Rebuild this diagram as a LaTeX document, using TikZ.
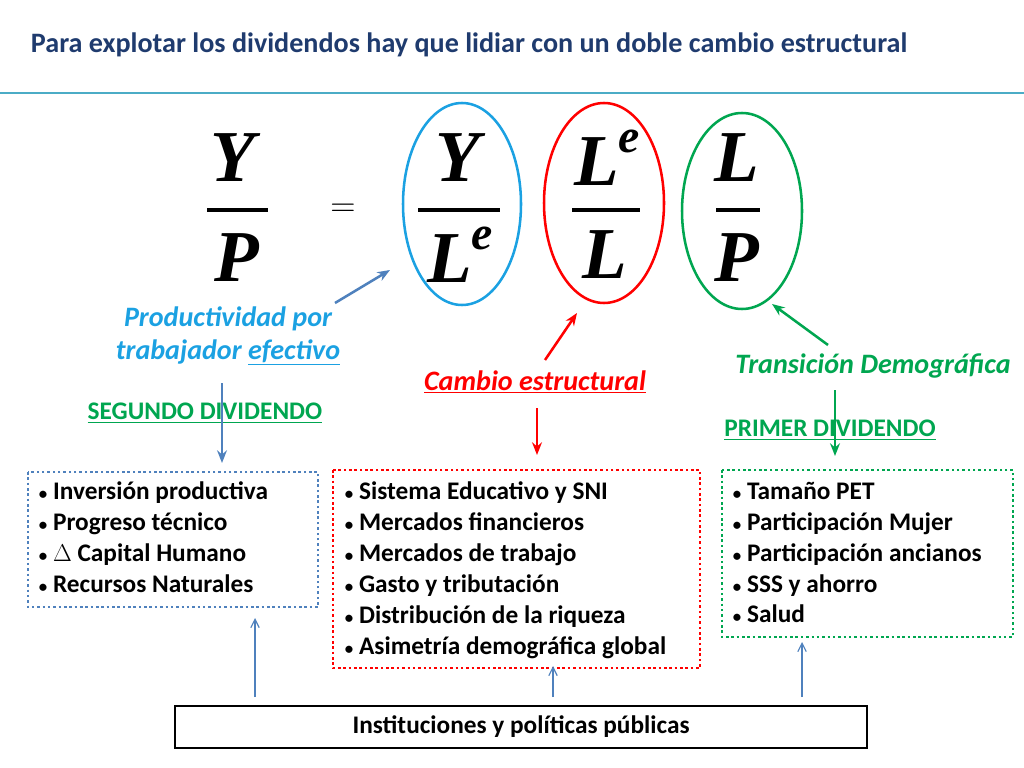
\documentclass[tikz,border=0pt]{standalone}
\usepackage{fontspec}
\setmainfont{Carlito}
\newfontfamily\mathfont{Liberation Serif}
\usetikzlibrary{arrows.meta}
\newcommand{\mlet}[1]{{\mathfont\bfseries\itshape #1}}
\newcommand{\supe}{\raisebox{0.45em}{\fontsize{34}{34}\selectfont e}}
\newcommand{\itm}{{\fontsize{12}{12}\selectfont•}\ }
\begin{document}
\begin{tikzpicture}[
    x=0.025cm, y=-0.025cm,
    letter/.style={font=\fontsize{52}{52}\selectfont, inner sep=0pt},
    fracbar/.style={line width=3.5pt},
    ring/.style={line width=1.8pt},
    lbl/.style={font=\fontsize{20}{23}\selectfont\bfseries\itshape, align=center},
    divlbl/.style={font=\fontsize{18}{20}\selectfont\bfseries, text=dgreen},
    items/.style={font=\fontsize{18}{22}\selectfont\bfseries, align=left, anchor=north west},
    dotbox/.style={dotted, line width=1.8pt},
    arrow/.style={-{Stealth[length=9pt,width=7pt]}, line width=1.8pt},
    thinarrow/.style={-{Straight Barb[length=6pt,width=6pt]}, line width=0.8pt, steel}
]
\definecolor{titleblue}{HTML}{1F3B6E}
\definecolor{cyanb}{HTML}{1BA1E2}
\definecolor{steel}{HTML}{4F81BD}
\definecolor{dgreen}{HTML}{00A650}
\definecolor{lineblue}{HTML}{4BACC6}
\useasboundingbox (0,0) rectangle (1024,768);

% titulo
\node[anchor=west, font=\fontsize{20}{23}\selectfont\bfseries, text=titleblue] (title) at (26,45) {Para explotar los dividendos hay que lidiar con un doble cambio estructural};
\draw[lineblue, line width=0.8pt] (0,93) -- (1024,93);

% fracciones
\node[letter] (yp1) at (233,158) {\mlet{Y}};
\node[letter] (yp2) at (237,258) {\mlet{P}};
\draw[fracbar] (207,210) -- (268,210);
\node[letter, font=\fontsize{110}{110}\selectfont] (eq) at (343,210) {$=$};
\node[letter] (yl1) at (458,158) {\mlet{Y}};
\node[letter] (yl2) at (460,255) {\mlet{L\supe}};
\draw[fracbar] (418,210) -- (500,210);
\node[letter] (ll1) at (607,158) {\mlet{L\supe}};
\node[letter] (ll2) at (605,255) {\mlet{L}};
\draw[fracbar] (572,210) -- (640,210);
\node[letter] (lp1) at (737,158) {\mlet{L}};
\node[letter] (lp2) at (737,258) {\mlet{P}};
\draw[fracbar] (716,210) -- (760,210);

% elipses
\draw[ring, cyanb] (462,204) ellipse [x radius=59, y radius=101];
\draw[ring, red] (604,203) ellipse [x radius=60, y radius=100];
\draw[ring, dgreen] (742,211) ellipse [x radius=60, y radius=98];
\coordinate (cb) at (390,270);
\coordinate (cr) at (577,313);
\coordinate (cg) at (772,304);

% etiquetas
\node[lbl, text=cyanb] (prod) at (228,336) {Productividad por\\trabajador \underline{efectivo}};
\node[lbl, text=red] (camb) at (535,382) {\underline{Cambio estructural}};
\node[lbl, text=dgreen] (trans) at (873,366) {Transición Demográfica};
\coordinate (pa) at (335,303);
\coordinate (ra) at (545,360);
\coordinate (ga) at (828,345);
\draw[arrow, steel] (pa) -- (cb);
\draw[arrow, red] (ra) -- (cr);
\draw[arrow, dgreen] (ga) -- (cg);

\node[divlbl] (seg) at (205,413) {\underline{SEGUNDO DIVIDENDO}};
\node[divlbl] (prim) at (830,430) {\underline{PRIMER DIVIDENDO}};

% cajas
\draw[dotbox, steel] (28,472) rectangle (318,607);
\draw[dotbox, red] (333,470) rectangle (700,668);
\draw[dotbox, dgreen] (722,470) rectangle (1013,637);
\node[items] (it1) at (34,477) {\itm Inversión productiva\\\itm Progreso técnico\\\itm $\Delta$ Capital Humano\\\itm Recursos Naturales};
\node[items] (it2) at (340,477) {\itm Sistema Educativo y SNI\\\itm Mercados financieros\\\itm Mercados de trabajo\\\itm Gasto y tributación\\\itm Distribución de la riqueza\\\itm Asimetría demográfica global};
\node[items] (it3) at (728,477) {\itm Tamaño PET\\\itm Participación Mujer\\\itm Participación ancianos\\\itm SSS y ahorro\\\itm Salud};

% flechas hacia las cajas
\draw[arrow, steel] (222,383) -- (222,463);
\draw[arrow, red] (537,408) -- (537,455);
\draw[arrow, dgreen] (835,390) -- (835,456);

% instituciones
\node[draw, line width=1.4pt, minimum width=692*0.025cm, minimum height=42*0.025cm, font=\fontsize{18}{20}\selectfont\bfseries] (inst) at (521,727) {Instituciones y políticas públicas};
\draw[thinarrow] (255,697) -- (255,618);
\draw[thinarrow] (553,697) -- (553,666);
\draw[thinarrow] (802,697) -- (802,642);
\end{tikzpicture}
\end{document}
